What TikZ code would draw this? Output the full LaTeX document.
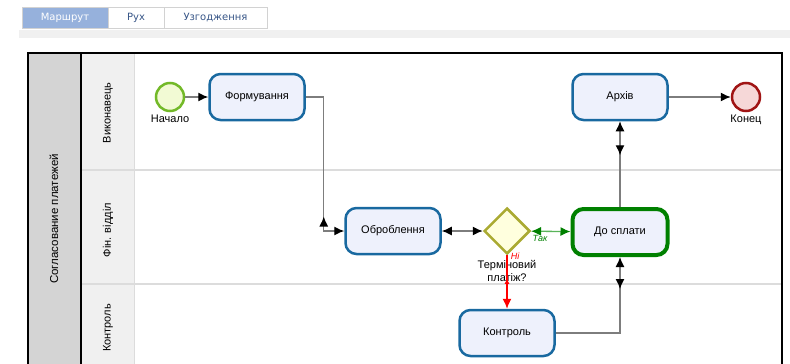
\documentclass[tikz,border=0pt]{standalone}
\usepackage{fontspec}
\setmainfont{Liberation Sans}
\newfontfamily\tabfont{DejaVu Sans}
\usetikzlibrary{arrows.meta, shapes.geometric, positioning, decorations.markings}

\definecolor{taskline}{RGB}{25,105,160}
\definecolor{taskfill}{RGB}{238,241,252}
\definecolor{startline}{RGB}{115,185,40}
\definecolor{startfill}{RGB}{242,250,212}
\definecolor{endline}{RGB}{160,20,20}
\definecolor{endfill}{RGB}{246,216,216}
\definecolor{gateline}{RGB}{170,170,50}
\definecolor{gatefill}{RGB}{255,255,222}
\definecolor{payline}{RGB}{0,128,0}
\definecolor{yesline}{RGB}{90,180,90}
\definecolor{connline}{RGB}{125,125,125}
\definecolor{poolfill}{RGB}{212,212,212}
\definecolor{lanefill}{RGB}{240,240,240}
\definecolor{sepline}{RGB}{220,220,220}
\definecolor{tabsel}{RGB}{150,177,220}
\definecolor{tabline}{RGB}{210,210,210}
\definecolor{tabtext}{RGB}{55,85,135}

\tikzset{
  task/.style={draw=taskline, line width=2.5pt, fill=taskfill, rounded corners=11pt,
    minimum width=95pt, minimum height=46pt, inner sep=0pt},
  event/.style={circle, line width=2.5pt, minimum size=28pt, inner sep=0pt},
  evlabel/.style={inner sep=1pt},
  tabbox/.style={draw=tabline, minimum height=21pt, inner sep=0pt, text=tabtext,
    font=\tabfont\fontsize{10}{12}\selectfont},
  conn/.style={draw=connline, line width=1.3pt},
  tipend/.tip={Latex[length=10pt, width=9pt]},
  midtip/.style 2 args={postaction={decorate, decoration={markings,
    mark=at position #1 with {\arrowreversed{Latex[length=10pt, width=9pt, #2]}}}}}
}

\begin{document}
\begin{tikzpicture}[x=1pt, y=-1pt, font=\fontsize{11}{13}\selectfont]
  \useasboundingbox (0,0) rectangle (790,364);
  \clip (0,0) rectangle (790,364);

  % tabs
  \node[tabbox, fill=tabsel, text=white, minimum width=86pt] (tabroute) at (65,17.5) {Маршрут};
  \node[tabbox, fill=white, minimum width=56pt] (tabmove) at (136,17.5) {Рух};
  \node[tabbox, fill=white, minimum width=103pt] (tabagree) at (215.5,17.5) {Узгодження};
  \fill[lanefill] (19,30) rectangle (790,38);

  % pool and lanes
  \fill[poolfill] (28,53) rectangle (81,380);
  \fill[lanefill] (81,53) rectangle (134,380);
  \draw[sepline, line width=1.5pt] (81,170) -- (782,170) (81,284) -- (782,284);
  \draw[sepline] (134,53) -- (134,380);
  \draw[line width=2pt] (81,53) -- (81,380);
  \draw[line width=2pt] (28,53) rectangle (782,380);

  \node[rotate=90, font=\fontsize{11.5}{13}\selectfont] (pool) at (54,219) {Согласование платежей};
  \node[rotate=90] (lanedo) at (108,113) {Виконавець};
  \node[rotate=90] (lanefin) at (108,230) {Фін. відділ};
  \node[rotate=90] (lanectrl) at (108,328) {Контроль};

  % flow objects
  \node[event, draw=startline, fill=startfill] (start) at (170,97) {};
  \node[evlabel, below=1pt of start] (startlbl) {Начало};
  \node[task] (form) at (257,97) {Формування};
  \node[task] (proc) at (393,231) {Оброблення};
  \node[diamond, aspect=1, draw=gateline, fill=gatefill, line width=2.5pt,
    minimum width=46pt, minimum height=46pt, inner sep=0pt] (gate) at (507,231) {};
  \node[align=center, inner sep=0pt] (gatelbl) at (507,271) {Терміновий\\платіж?};
  \node[task, draw=payline, line width=4pt] (pay) at (620,232) {До сплати};
  \node[task] (ctrl) at (507,333) {Контроль};
  \node[task] (arch) at (620,97) {Архів};
  \node[event, draw=endline, fill=endfill] (finish) at (746,97) {};
  \node[evlabel, below=1pt of finish] (finishlbl) {Конец};

  % connectors
  \draw[conn, -{tipend[black]}] (start) -- (form);
  \draw[conn, -{tipend[black]}, midtip={-35pt}{black}] (form.east) -- ++(18,0) |- (proc.west);
  \draw[conn, {tipend[black]}-{tipend[black]}] (proc) -- (gate);
  \draw[yesline, line width=1.3pt, {tipend[payline]}-{tipend[payline]}] (gate) -- (pay);
  \node[text=payline, font=\itshape\fontsize{9}{10}\selectfont, inner sep=0pt] (yeslbl) at (540,238) {Так};
  \draw[red, line width=1.3pt, -{tipend[red]}, midtip={-30pt}{red, length=5pt, width=5pt}] (gate) -- (ctrl);
  \node[text=red, font=\itshape\fontsize{9}{10}\selectfont, inner sep=0pt] (nolbl) at (515,256) {Ні};
  \draw[conn, -{tipend[black]}, midtip={-32pt}{black}] (ctrl.east) -| (pay.south);
  \draw[conn, -{tipend[black]}, midtip={-34pt}{black}] (pay) -- (arch);
  \draw[conn, -{tipend[black]}] (arch) -- (finish);
\end{tikzpicture}
\end{document}
